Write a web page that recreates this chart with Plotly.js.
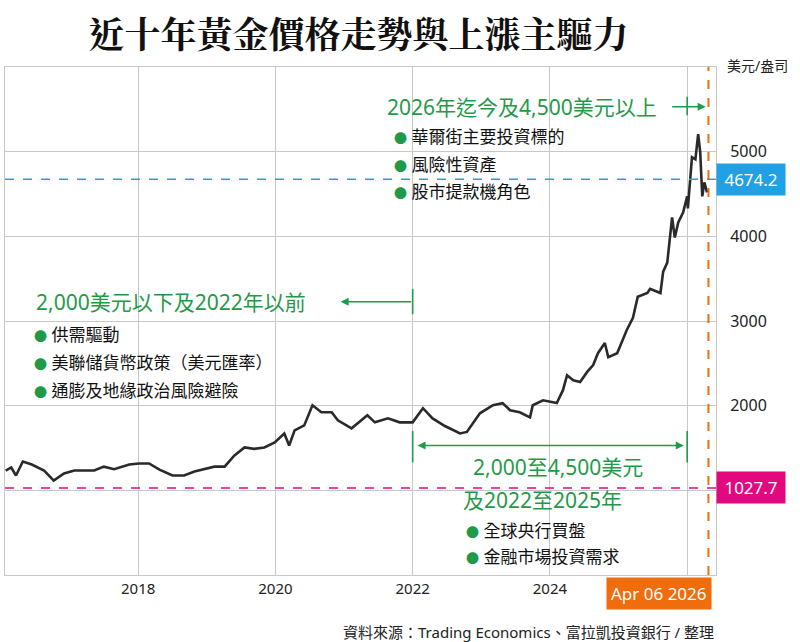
<!DOCTYPE html>
<html><head><meta charset="utf-8">
<script src="https://cdn.plot.ly/plotly-3.0.1.min.js"></script>
<style>body{margin:0;background:#fff}#chart{width:800px;height:642px}</style>
</head><body><div id="chart"></div>
<script>
// decimal year and gold price (USD/oz)
const years = [2016.07,2016.15,2016.22,2016.32,2016.45,2016.55,2016.63,2016.77,2016.92,2017.07,2017.21,2017.36,2017.50,2017.65,2017.87,2018.01,2018.16,2018.31,2018.50,2018.67,2018.82,2018.96,2019.11,2019.26,2019.40,2019.55,2019.69,2019.84,2019.99,2020.13,2020.20,2020.28,2020.42,2020.54,2020.67,2020.82,2020.91,2021.11,2021.20,2021.34,2021.45,2021.64,2021.81,2022.00,2022.15,2022.29,2022.47,2022.69,2022.79,2022.98,2023.17,2023.31,2023.42,2023.56,2023.71,2023.75,2023.90,2024.10,2024.19,2024.25,2024.34,2024.44,2024.54,2024.63,2024.70,2024.80,2024.85,2024.98,2025.12,2025.21,2025.28,2025.42,2025.46,2025.61,2025.65,2025.71,2025.78,2025.82,2025.87,2025.94,2026.00,2026.01,2026.07,2026.12,2026.16,2026.19,2026.22,2026.25,2026.29];
const prices = [1234,1270,1175,1340,1305,1270,1234,1115,1200,1234,1234,1234,1280,1250,1305,1317,1317,1245,1175,1175,1222,1250,1280,1280,1410,1506,1490,1506,1565,1672,1530,1708,1767,2005,1922,1922,1827,1732,1790,1886,1803,1850,1803,1803,1970,1850,1760,1672,1690,1910,2005,2030,1946,1922,1862,2005,2064,2030,2183,2360,2300,2280,2396,2480,2620,2740,2574,2620,2894,3037,3286,3330,3380,3330,3582,3690,4223,3986,4164,4282,4472,4330,4935,4910,5208,4994,4472,4638,4520];

const xTicks = [2018, 2020, 2022, 2024, 2026];
const xTickText = ['2018', '2020', '2022', '2024', ''];
const yTicks = [1000, 2000, 3000, 4000, 5000];
const yTickText = ['', '2000', '3000', '4000', '5000'];

const lastPrice = 4674.2, decadeLow = 1027.7, lastDate = 2026.31;
const topHead = '2026年迄今及4,500美元以上';
const topBullets = ['華爾街主要投資標的', '風險性資產', '股市提款機角色'];
const leftHead = '2,000美元以下及2022年以前';
const leftBullets = ['供需驅動', '美聯儲貨幣政策（美元匯率）', '通膨及地緣政治風險避險'];
const midHead = ['2,000至4,500美元', '及2022至2025年'];
const midBullets = ['全球央行買盤', '金融市場投資需求'];

const GREEN = '#1f9a48', BLUE = '#22a0e6', PINK = '#e2087f', ORANGE = '#ef6d0c';
const FONT = 'Noto Sans, Noto Sans CJK TC, sans-serif';
const dot = t => '<span style="color:' + GREEN + ';font-size:13px">●</span> ' + t;

const ann = [];
function head(text, x, y, anchor) {
  ann.push({x: x, y: y, xref: 'x', yref: 'y', text: text, showarrow: false, xanchor: anchor || 'left',
    font: {size: 21, color: GREEN, family: FONT}});
}
function bullets(list, x, y0, step) {
  list.forEach((t, i) => ann.push({x: x, y: y0 - i * step, xref: 'x', yref: 'y', text: dot(t),
    showarrow: false, xanchor: 'left', font: {size: 17, color: '#111', family: FONT}}));
}
head(topHead, 2021.6, 5530);
bullets(topBullets, 2021.7, 5175, 325);
head(leftHead, 2016.48, 3227);
bullets(leftBullets, 2016.45, 2835, 325);
head(midHead[0], 2024.12, 1270, 'center');
head(midHead[1], 2022.7, 890);
bullets(midBullets, 2022.75, 525, 310);

// arrows
function arrow(x0, x1, y, side) {
  ann.push({x: x1, y: y, ax: x0, ay: y, xref: 'x', yref: 'y', axref: 'x', ayref: 'y', text: '',
    showarrow: true, arrowhead: 2, arrowsize: 1, arrowwidth: 1.6, arrowcolor: GREEN, arrowside: side});
}
arrow(2025.76, 2026.27, 5530, 'end');
arrow(2022.0, 2020.95, 3227, 'end');
arrow(2022.05, 2025.95, 1530, 'end+start');

ann.push({x: 1, xref: 'paper', y: lastPrice, yref: 'y', xanchor: 'left', text: '4674.2', showarrow: false,
  bgcolor: BLUE, font: {color: '#fff', size: 17, family: FONT}, borderpad: 4, width: 60});
ann.push({x: 1, xref: 'paper', y: decadeLow, yref: 'y', xanchor: 'left', text: '1027.7', showarrow: false,
  bgcolor: PINK, font: {color: '#fff', size: 17, family: FONT}, borderpad: 4, width: 60});
ann.push({x: lastDate, xref: 'x', y: 0, yref: 'paper', yanchor: 'top', yshift: -2, text: 'Apr 06 2026', showarrow: false,
  xanchor: 'right', xshift: 4, bgcolor: ORANGE, font: {color: '#fff', size: 17, family: FONT}, borderpad: 4});
ann.push({x: 1.012, xref: 'paper', y: 1.0, yref: 'paper', yanchor: 'bottom', xanchor: 'left', yshift: -10, text: '美元/盎司',
  showarrow: false, font: {size: 14, color: '#222', family: FONT}});
ann.push({x: 1, xref: 'paper', xanchor: 'right', y: -0.112, yref: 'paper', yanchor: 'middle', showarrow: false,
  text: '資料來源：Trading Economics、富拉凱投資銀行 / 整理', font: {size: 15, color: '#222', family: FONT}});

const gridTick = (x, y0, y1) => ({type: 'line', xref: 'x', yref: 'y', x0: x, x1: x, y0: y0, y1: y1, line: {color: GREEN, width: 1.6}});
const shapes = [
  {type: 'line', xref: 'paper', x0: 0, x1: 1, yref: 'y', y0: lastPrice, y1: lastPrice, line: {color: BLUE, width: 1.6, dash: 'dash'}},
  {type: 'line', xref: 'paper', x0: 0, x1: 1, yref: 'y', y0: decadeLow, y1: decadeLow, line: {color: PINK, width: 1.6, dash: 'dash'}},
  {type: 'line', xref: 'x', x0: lastDate, x1: lastDate, yref: 'paper', y0: 0, y1: 1, line: {color: ORANGE, width: 2, dash: 'dash'}},
  gridTick(2026.0, 5430, 5650), gridTick(2022.0, 3080, 3380), gridTick(2022.0, 1330, 1700), gridTick(2026.0, 1330, 1700)
];

const trace = {x: years, y: prices, type: 'scatter', mode: 'lines', line: {color: '#2a2a2a', width: 2.6}, hoverinfo: 'skip'};

Plotly.newPlot('chart', [trace], {
  width: 800, height: 642,
  margin: {l: 5, r: 84, t: 67, b: 67},
  paper_bgcolor: '#fff', plot_bgcolor: '#fff',
  showlegend: false,
  title: {text: '<b>近十年黃金價格走勢與上漲主驅力</b>', x: 0.448, xanchor: 'center', y: 0.965,
    font: {size: 36, color: '#111', family: 'Noto Serif CJK TC, Noto Sans CJK TC, serif'}},
  xaxis: {range: [2016.06, 2026.42], tickvals: xTicks, ticktext: xTickText, showgrid: true, gridcolor: '#c8c8c8',
    zeroline: false, showline: true, linecolor: '#c8c8c8', mirror: true, ticks: '',
    tickfont: {size: 15, color: '#222', family: FONT}},
  yaxis: {range: [0, 6000], side: 'right', tickvals: yTicks, ticktext: yTickText, showgrid: true, gridcolor: '#c8c8c8',
    zeroline: false, showline: true, linecolor: '#c8c8c8', mirror: true, ticks: '', ticklabelstandoff: 10,
    tickfont: {size: 16, color: '#222', family: FONT}},
  annotations: ann,
  shapes: shapes
}, {staticPlot: true});
</script></body></html>
